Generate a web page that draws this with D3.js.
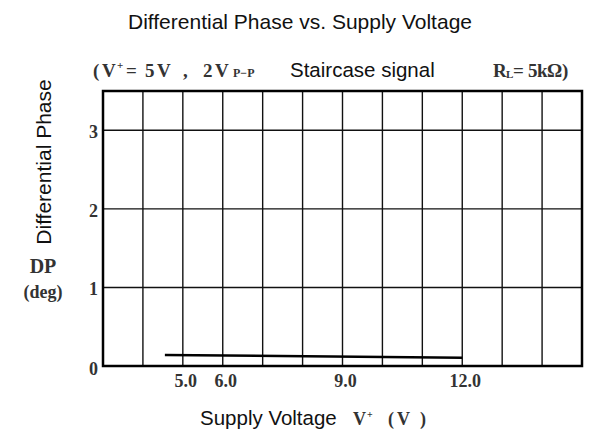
<!DOCTYPE html>
<html>
<head>
<meta charset="utf-8">
<script src="https://cdn.jsdelivr.net/npm/d3@7"></script>
<style>
  body { margin: 0; background: #fff; }
  .sans { font-family: "Liberation Sans", Arial, sans-serif; }
  .serif { font-family: "Liberation Serif", "DejaVu Serif", serif; font-weight: bold; }
</style>
</head>
<body>
<svg id="chart" width="605" height="432"></svg>
<script>
// data
const xTicks = [5, 6, 9, 12];
const xTickLabels = ['5.0', '6.0', '9.0', '12.0'];
const yTicks = [0, 1, 2, 3];
const xGrid = d3.range(4, 15, 1);
const yGrid = [1, 2, 3];
const dpVoltage = [4.55, 12];
const dpValue = [0.14, 0.105];

const margin = { top: 91, right: 23, bottom: 66, left: 103 };
const width = 605, height = 432;

const svg = d3.select('#chart');

const x = d3.scaleLinear().domain([3, 15]).range([margin.left, width - margin.right]);
const y = d3.scaleLinear().domain([0, 3.5]).range([height - margin.bottom, margin.top]);

// grid
svg.append('g').selectAll('line')
  .data(xGrid)
  .enter().append('line')
    .attr('x1', d => x(d)).attr('x2', d => x(d))
    .attr('y1', y(3.5)).attr('y2', y(0))
    .attr('stroke', '#111').attr('stroke-width', 1.4);

svg.append('g').selectAll('line')
  .data(yGrid)
  .enter().append('line')
    .attr('x1', x(3)).attr('x2', x(15))
    .attr('y1', d => y(d)).attr('y2', d => y(d))
    .attr('stroke', '#111').attr('stroke-width', 1.4);

// frame
svg.append('rect')
  .attr('x', x(3)).attr('y', y(3.5))
  .attr('width', x(15) - x(3)).attr('height', y(0) - y(3.5))
  .attr('fill', 'none').attr('stroke', '#000').attr('stroke-width', 2.5);

// data line
const pts = dpVoltage.map((v, i) => [v, dpValue[i]]);
svg.append('path')
  .datum(pts)
  .attr('d', d3.line().x(d => x(d[0])).y(d => y(d[1])))
  .attr('fill', 'none').attr('stroke', '#000').attr('stroke-width', 2.5);

// tick labels
svg.append('g').selectAll('text')
  .data(xTicks)
  .enter().append('text')
    .attr('class', 'serif')
    .attr('x', d => x(d) + 3).attr('y', y(0) + 21)
    .attr('text-anchor', 'middle').attr('font-size', 18).attr('fill', '#333')
    .text((d, i) => xTickLabels[i]);

svg.append('g').selectAll('text')
  .data(yTicks)
  .enter().append('text')
    .attr('class', 'serif')
    .attr('x', x(3) - 5).attr('y', d => y(d) + (d === 0 ? 9 : 8))
    .attr('text-anchor', 'end').attr('font-size', 18).attr('fill', '#333')
    .text(d => d);

// title
svg.append('text').attr('class', 'sans')
  .attr('x', 300).attr('y', 29).attr('text-anchor', 'middle')
  .attr('font-size', 21).attr('fill', '#111')
  .text('Differential Phase vs. Supply Voltage');

// condition line, pieces placed where they sit in the picture
const condParts = [
  { t: '(', x: 93, s: 19, dy: 0 },
  { t: 'V', x: 102, s: 19, dy: 0 },
  { t: '+', x: 117, s: 11, dy: -8 },
  { t: '=', x: 126, s: 19, dy: 0 },
  { t: '5', x: 145, s: 19, dy: 0 },
  { t: 'V', x: 157, s: 19, dy: 0 },
  { t: ',', x: 183, s: 19, dy: 0 },
  { t: '2', x: 203, s: 19, dy: 0 },
  { t: 'V', x: 215, s: 19, dy: 0 },
  { t: 'P−P', x: 233, s: 12, dy: 0 },
  { t: 'R', x: 493, s: 19, dy: 0 },
  { t: 'L', x: 506, s: 11, dy: 1 },
  { t: '=', x: 513, s: 19, dy: 0 },
  { t: '5', x: 528, s: 19, dy: 0 },
  { t: 'k', x: 537, s: 19, dy: 0 },
  { t: 'Ω', x: 547, s: 19, dy: 0 },
  { t: ')', x: 562, s: 19, dy: 0 }
];
svg.append('g').attr('class', 'serif').attr('fill', '#333')
  .selectAll('text')
  .data(condParts)
  .enter().append('text')
    .attr('x', d => d.x).attr('y', d => 77 + d.dy)
    .attr('font-size', d => d.s)
    .text(d => d.t);

svg.append('text').attr('class', 'sans')
  .attr('x', 290).attr('y', 77).attr('font-size', 20.5).attr('fill', '#111')
  .text('Staircase signal');

// y axis title
svg.append('text').attr('class', 'sans')
  .attr('transform', 'translate(51,162) rotate(-90)')
  .attr('text-anchor', 'middle').attr('font-size', 21).attr('fill', '#111')
  .text('Differential Phase');

svg.append('text').attr('class', 'serif')
  .attr('x', 43).attr('y', 273).attr('text-anchor', 'middle')
  .attr('font-size', 20).attr('fill', '#333').text('DP');
svg.append('text').attr('class', 'serif')
  .attr('x', 43).attr('y', 298).attr('text-anchor', 'middle')
  .attr('font-size', 18).attr('fill', '#333').text('(deg)');

// x axis title
svg.append('text').attr('class', 'sans')
  .attr('x', 200).attr('y', 425).attr('font-size', 20.5).attr('fill', '#111')
  .text('Supply Voltage');
const xlParts = [
  { t: 'V', x: 353, s: 18, dy: 0 },
  { t: '+', x: 367, s: 10, dy: -7 },
  { t: '(', x: 388, s: 18, dy: 0 },
  { t: 'V', x: 397, s: 18, dy: 0 },
  { t: ')', x: 420, s: 18, dy: 0 }
];
svg.append('g').attr('class', 'serif').attr('fill', '#333')
  .selectAll('text')
  .data(xlParts)
  .enter().append('text')
    .attr('x', d => d.x).attr('y', d => 425 + d.dy)
    .attr('font-size', d => d.s)
    .text(d => d.t);
</script>
</body>
</html>
